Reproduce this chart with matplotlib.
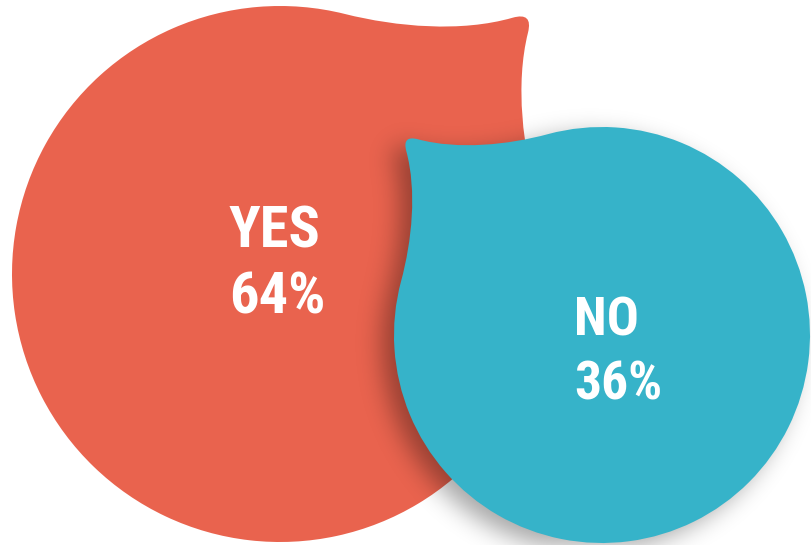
import numpy as np
import matplotlib
matplotlib.use("Agg")
from matplotlib import pyplot as plt
from matplotlib import font_manager
from matplotlib.path import Path
from matplotlib.patches import PathPatch
from matplotlib.transforms import Affine2D

W, H = 811, 545

labels = ["YES", "NO"]
shares = [64, 36]
colors = ["#E9634E", "#36B3C9"]

# bubble geometry: centre (x, y), radius, direction of the pointed tip (deg)
centers = [(280, 271), (602, 210)]
radii = [268, 208]
tip_angles = [46, 135]
text_pos = [(229, 297), (574, 210)]
font_sizes = [42, 38.5]


def pick_font():
    names = {f.name for f in font_manager.fontManager.ttflist}
    for fam in ["Roboto Condensed", "Open Sans Condensed", "Liberation Sans Narrow",
                "DejaVu Sans Condensed"]:
        if fam in names:
            return fam
    return "DejaVu Sans"


def teardrop(cx, cy, r, angle, tip=1.36, phi=30, psi=30, a=0.2, b=0.2, eps=0.08):
    ph, ps = np.radians(phi), np.radians(psi)
    q = np.array([np.cos(ph), np.sin(ph)])
    p1 = q + a * np.array([np.sin(ph), -np.cos(ph)])
    d = np.array([np.cos(ps), -np.sin(ps)])
    e = np.array([tip, 0.0]) - eps * d
    p2 = e - b * d
    fl = np.array([1, -1])

    arc = Path.arc(phi, 360 - phi)
    verts = list(arc.vertices)
    codes = list(arc.codes)
    verts += [p1 * fl, p2 * fl, e * fl, [tip, 0.0], e, p2, p1, q, q]
    codes += [Path.CURVE4] * 3 + [Path.CURVE3] * 2 + [Path.CURVE4] * 3 + [Path.CLOSEPOLY]
    tr = Affine2D().scale(r).rotate_deg(angle).translate(cx, cy)
    return tr.transform_path(Path(np.array(verts), codes))


def blur(img, sigma):
    k = np.arange(-3 * sigma, 3 * sigma + 1)
    g = np.exp(-k ** 2 / (2 * sigma ** 2))
    g /= g.sum()
    img = np.apply_along_axis(np.convolve, 1, img, g, mode="same")
    return np.apply_along_axis(np.convolve, 0, img, g, mode="same")


fam = pick_font()
fig = plt.figure(figsize=(W / 100, H / 100), dpi=100)
ax = fig.add_axes([0, 0, 1, 1])
ax.set_xlim(0, W)
ax.set_ylim(0, H)
ax.axis("off")

shapes = [teardrop(c[0], c[1], r, t) for c, r, t in zip(centers, radii, tip_angles)]

ax.add_patch(PathPatch(shapes[0], facecolor=colors[0], edgecolor="none", zorder=1))

# soft shadow of the blue drop, thrown to the lower left
yy, xx = np.mgrid[0:H, 0:W] + 0.5
pts = np.column_stack([xx.ravel() + 12, yy.ravel() + 8])
mask = shapes[1].contains_points(pts).reshape(H, W).astype(float)
mask = blur(mask, 12)
shadow = np.zeros((H, W, 4))
shadow[..., 3] = mask * 0.35
ax.imshow(shadow, extent=(0, W, 0, H), origin="lower", zorder=2, interpolation="bilinear")

ax.add_patch(PathPatch(shapes[1], facecolor=colors[1], edgecolor="none", zorder=3))

for lab, val, (x, y), fs in zip(labels, shares, text_pos, font_sizes):
    ax.text(x, y, lab, color="white", fontsize=fs, fontweight="bold", family=fam,
            ha="left", va="baseline", zorder=4)
    ax.text(x, y - 65, f"{val}%", color="white", fontsize=fs, fontweight="bold", family=fam,
            ha="left", va="baseline", zorder=4)

ax.set_xlim(0, W)
ax.set_ylim(0, H)
fig.savefig("out.png", dpi=100)
